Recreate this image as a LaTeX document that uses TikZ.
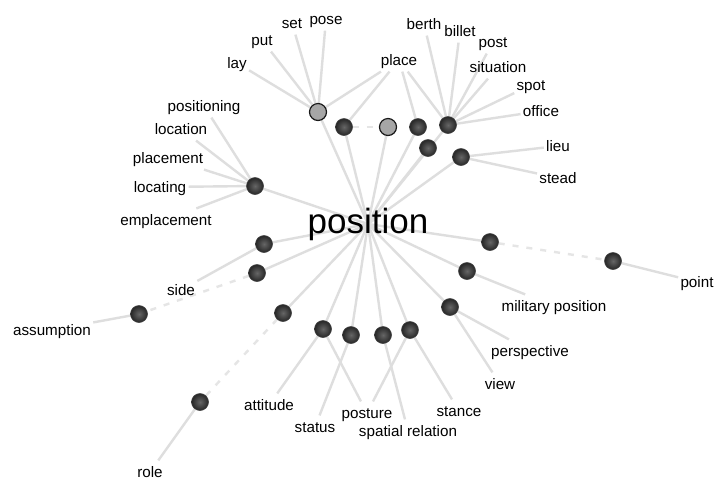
\documentclass[tikz,border=0pt]{standalone}
\usepackage{fontspec}
\setmainfont{Liberation Sans}
\usetikzlibrary{backgrounds}
\tikzset{
dot/.style={circle, inner sep=0pt, minimum size=8.5pt, draw=black!75, line width=0.3pt, inner color=black!60, outer color=black!85},
lite/.style={circle, inner sep=0pt, minimum size=8.5pt, draw=black!90, line width=0.6pt, fill=black!35},
word/.style={inner sep=1pt, text height=0.72em, text depth=0.2em, font=\fontsize{7.6}{9}\selectfont},
hub/.style={inner sep=0pt, font=\fontsize{17.5}{20}\selectfont},
link/.style={draw=black!13, line width=1.2pt},
weak/.style={draw=black!10, line width=1.2pt, dash pattern=on 3pt off 4pt},
}

\begin{document}
\begin{tikzpicture}[x=0.5pt,y=-0.5pt]
    \useasboundingbox (0,0) rectangle (716,478);

    \node[hub] (pos) at (368,224) {position};

    %dots above
    \node[lite] (d1) at (318,112) {};
    \node[dot] (d2) at (344,127) {};
    \node[lite] (d3) at (388,127) {};
    \node[dot] (d4) at (418,127) {};
    \node[dot] (d5) at (448,125) {};
    \node[dot] (d6) at (428,148) {};
    \node[dot] (d7) at (461,157) {};

    %dots left
    \node[dot] (d8) at (255,186) {};
    \node[dot] (d9) at (264,244) {};
    \node[dot] (d10) at (257,273) {};
    \node[dot] (d11) at (139,314) {};
    \node[dot] (d12) at (283,313) {};
    \node[dot] (d13) at (200,402) {};

    %dots below
    \node[dot] (d14) at (323,329) {};
    \node[dot] (d15) at (351,335) {};
    \node[dot] (d16) at (383,335) {};
    \node[dot] (d17) at (410,330) {};

    %dots right
    \node[dot] (d18) at (450,307) {};
    \node[dot] (d19) at (467,271) {};
    \node[dot] (d20) at (490,242) {};
    \node[dot] (d21) at (613,261) {};

    %words top
    \node[word] (lay) at (237,63) {lay};
    \node[word] (put) at (262,40) {put};
    \node[word] (set) at (292,23) {set};
    \node[word] (pose) at (326,19) {pose};
    \node[word] (place) at (399,60) {place};
    \node[word] (berth) at (424,24) {berth};
    \node[word] (billet) at (460,31) {billet};
    \node[word] (post) at (493,42) {post};
    \node[word] (situation) at (498,67) {situation};
    \node[word] (spot) at (531,85) {spot};
    \node[word] (office) at (541,111) {office};
    \node[word] (lieu) at (558,146) {lieu};
    \node[word] (stead) at (558,178) {stead};

    %words left
    \node[word] (positioning) at (204,106) {positioning};
    \node[word] (location) at (181,129) {location};
    \node[word] (placement) at (168,158) {placement};
    \node[word] (locating) at (160,187) {locating};
    \node[word] (emplacement) at (166,220) {emplacement};
    \node[word] (side) at (181,290) {side};
    \node[word] (assumption) at (52,330) {assumption};
    \node[word] (role) at (150,472) {role};

    %words bottom
    \node[word] (attitude) at (269,405) {attitude};
    \node[word] (status) at (315,427) {status};
    \node[word] (posture) at (367,413) {posture};
    \node[word] (spatial) at (408,431) {spatial relation};
    \node[word] (stance) at (459,411) {stance};
    \node[word] (view) at (500,384) {view};
    \node[word] (perspective) at (530,351) {perspective};
    \node[word] (military) at (554,306) {military position};
    \node[word] (point) at (697,282) {point};

    \begin{scope}[on background layer]
    \fill[white] (0,0) rectangle (716,478);

    \foreach \d in {d1,d2,d3,d4,d5,d6,d7,d8,d9,d10,d12,d14,d15,d16,d17,d18,d19,d20}
        \draw[link] (pos.center) -- (\d);

    \foreach \w in {lay,put,set,pose,place}
        \draw[link] (d1) -- (\w);
    \draw[link] (d2) -- (place);
    \draw[link] (d4) -- (place);
    \foreach \w in {place,berth,billet,post,situation,spot,office}
        \draw[link] (d5) -- (\w);
    \draw[link] (d7) -- (lieu);
    \draw[link] (d7) -- (stead);
    \foreach \w in {positioning,location,placement,locating,emplacement}
        \draw[link] (d8) -- (\w);
    \draw[link] (d9) -- (side);
    \draw[link] (d11) -- (assumption);
    \draw[link] (d13) -- (role);
    \draw[link] (d14) -- (attitude);
    \draw[link] (d14) -- (posture);
    \draw[link] (d15) -- (status);
    \draw[link] (d16) -- (spatial);
    \draw[link] (d17) -- (posture);
    \draw[link] (d17) -- (stance);
    \draw[link] (d18) -- (perspective);
    \draw[link] (d18) -- (view);
    \draw[link] (d19) -- (military);
    \draw[link] (d21) -- (point);

    \draw[weak] (d2) -- (d3);
    \draw[weak] (d10) -- (d11);
    \draw[weak] (d12) -- (d13);
    \draw[weak] (d20) -- (d21);
    \end{scope}
\end{tikzpicture}
\end{document}
